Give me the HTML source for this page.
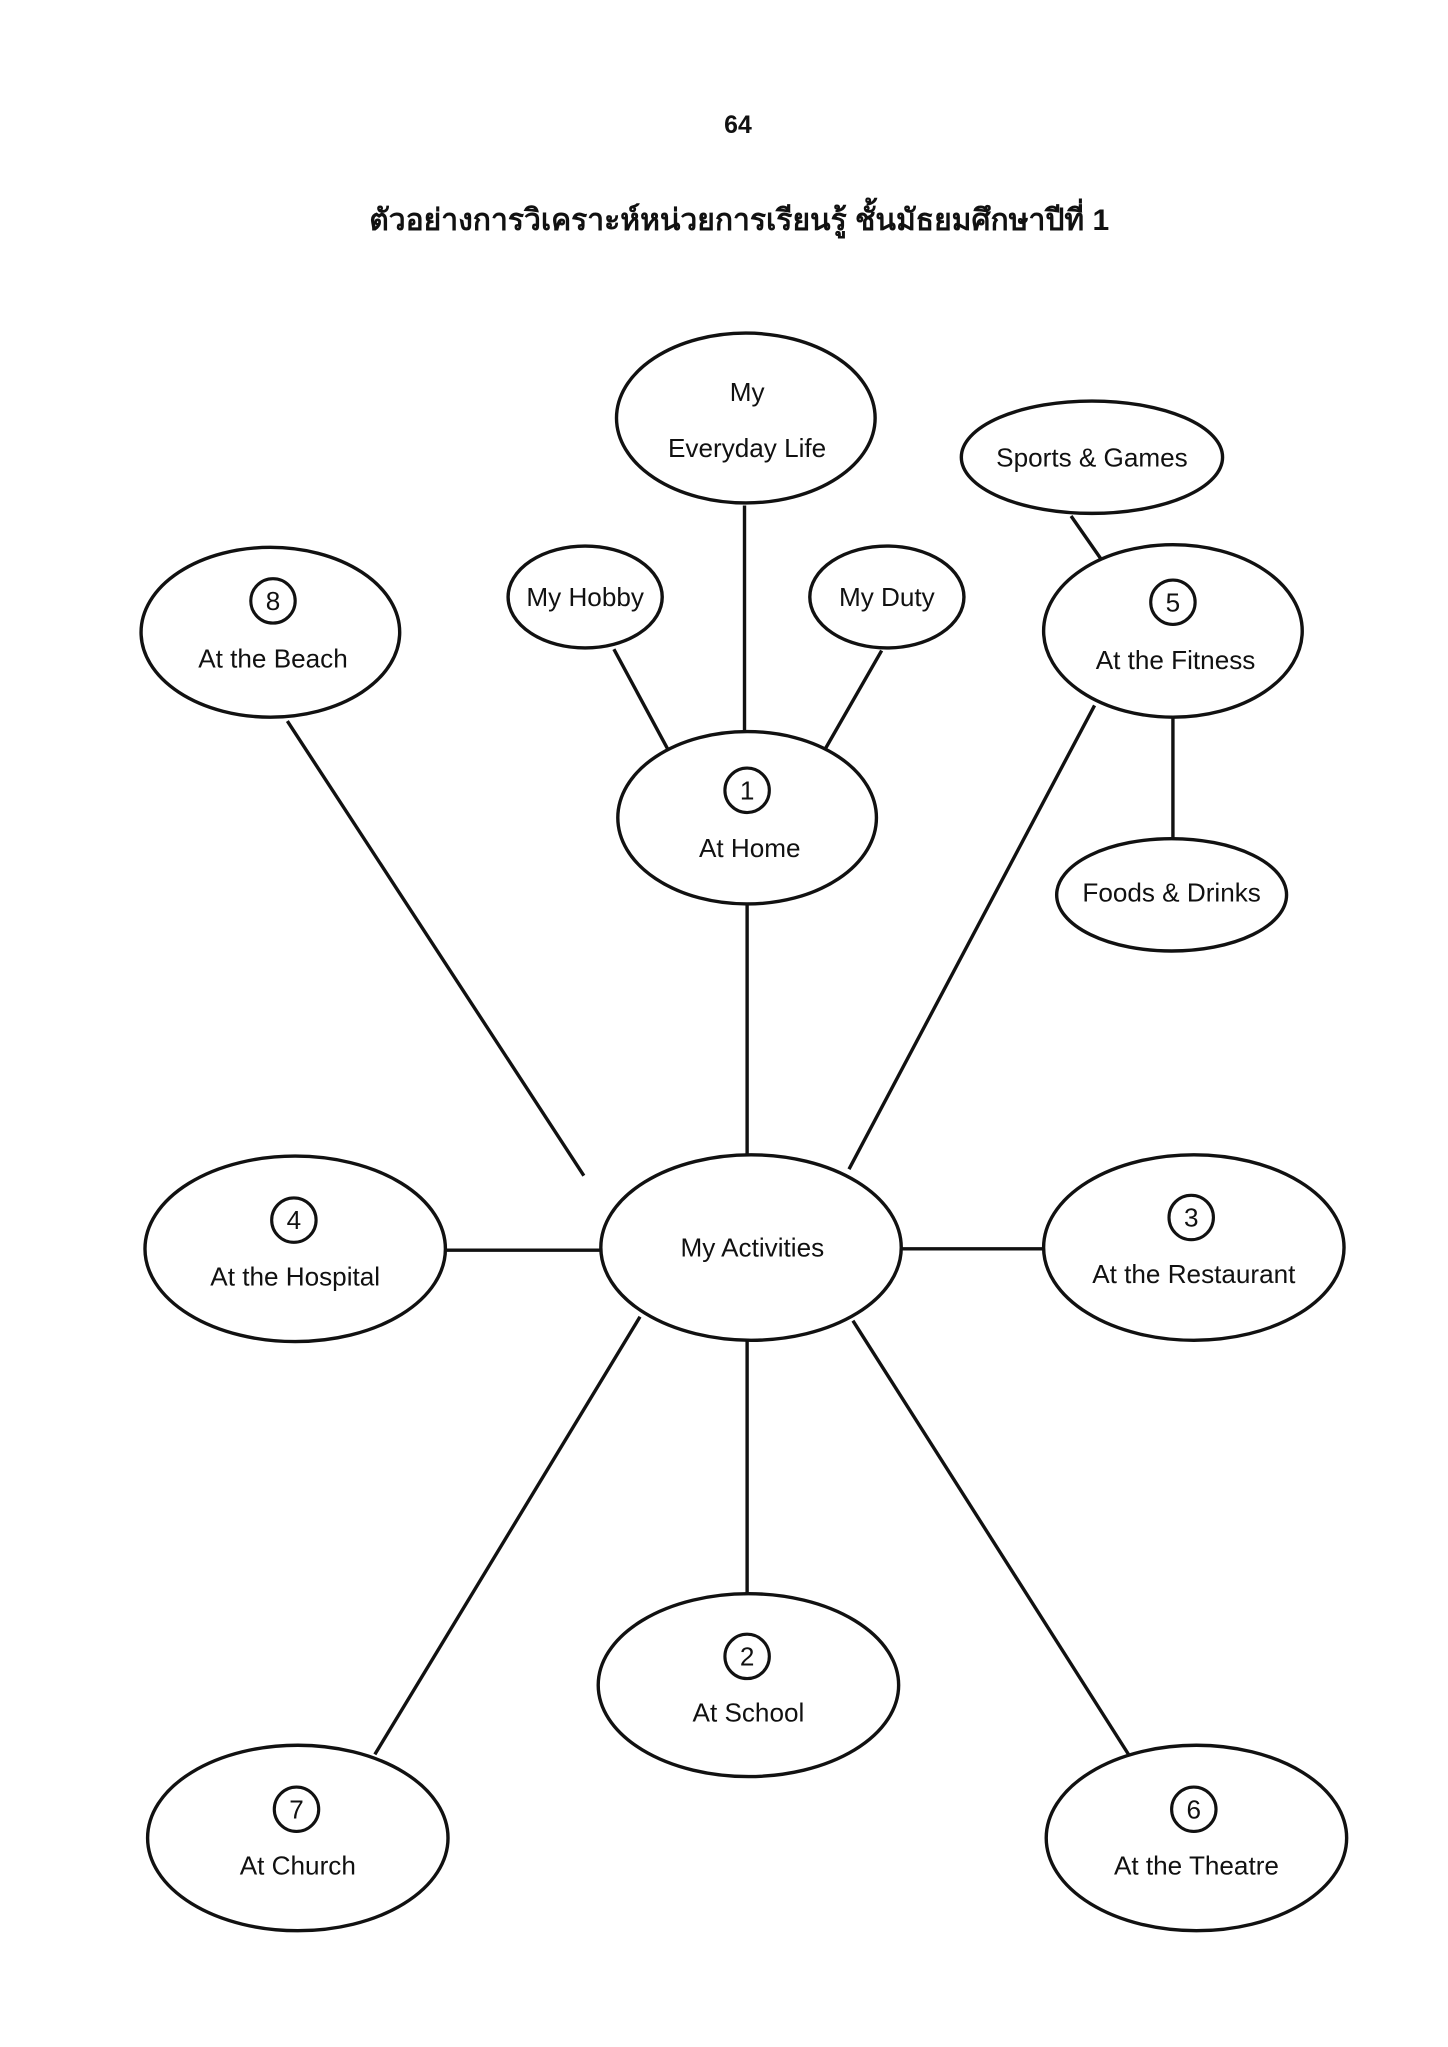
<!DOCTYPE html>
<html><head><meta charset="utf-8"><style>
html,body{margin:0;padding:0;background:#fff;}
svg{display:block;}
text{font-family:"Liberation Sans","Noto Sans CJK SC",sans-serif;fill:#111;}
</style></head><body>
<svg width="1448" height="2047" viewBox="0 0 1108.6 1567" preserveAspectRatio="none" xmlns="http://www.w3.org/2000/svg">
<g stroke="#111" stroke-width="2.6" fill="none">
<line x1="570" y1="387" x2="570" y2="561"/>
<line x1="470" y1="497" x2="511" y2="573"/>
<line x1="675" y1="498" x2="632" y2="573"/>
<line x1="820" y1="395" x2="843" y2="428"/>
<line x1="898" y1="549" x2="898" y2="643"/>
<line x1="572" y1="692" x2="572" y2="884"/>
<line x1="220" y1="552" x2="447" y2="900"/>
<line x1="838" y1="540" x2="650" y2="895"/>
<line x1="341" y1="957" x2="460" y2="957"/>
<line x1="690" y1="956" x2="800" y2="956"/>
<line x1="490" y1="1008" x2="287" y2="1343"/>
<line x1="572" y1="1026" x2="572" y2="1220"/>
<line x1="653" y1="1011" x2="864" y2="1343"/>
</g>
<g stroke="#111" stroke-width="2.6" fill="#fff">
<ellipse cx="571" cy="320" rx="99" ry="65"/>
<ellipse cx="836" cy="350" rx="100" ry="43"/>
<ellipse cx="448" cy="457" rx="59" ry="39"/>
<ellipse cx="679" cy="457" rx="59" ry="39"/>
<ellipse cx="207" cy="484" rx="99" ry="65"/>
<ellipse cx="898" cy="483" rx="99" ry="66"/>
<ellipse cx="572" cy="626" rx="99" ry="66"/>
<ellipse cx="897" cy="685" rx="88" ry="43"/>
<ellipse cx="226" cy="956" rx="115" ry="71"/>
<ellipse cx="575" cy="955" rx="115" ry="71"/>
<ellipse cx="914" cy="955" rx="115" ry="71"/>
<ellipse cx="573" cy="1290" rx="115" ry="70"/>
<ellipse cx="228" cy="1407" rx="115" ry="71"/>
<ellipse cx="916" cy="1407" rx="115" ry="71"/>
</g>
<g stroke="#111" stroke-width="2.4" fill="#fff">
<circle cx="209" cy="460" r="17"/>
<circle cx="898" cy="461" r="17"/>
<circle cx="572" cy="605" r="17"/>
<circle cx="225" cy="934" r="17"/>
<circle cx="912" cy="932" r="17"/>
<circle cx="572" cy="1268" r="17"/>
<circle cx="227" cy="1385" r="17"/>
<circle cx="914" cy="1385" r="17"/>
</g>
<g text-anchor="middle" font-size="20">
<text x="565" y="102" font-weight="bold" font-size="19">64</text>
<text x="566" y="176" font-weight="bold" font-size="23">ตัวอย่างการวิเคราะห์หน่วยการเรียนรู้ ชั้นมัธยมศึกษาปีที่ 1</text>
<text x="572" y="307">My</text>
<text x="572" y="350">Everyday Life</text>
<text x="836" y="357">Sports &amp; Games</text>
<text x="448" y="464">My Hobby</text>
<text x="679" y="464">My Duty</text>
<text x="209" y="467">8</text>
<text x="209" y="511">At the Beach</text>
<text x="898" y="468">5</text>
<text x="900" y="512">At the Fitness</text>
<text x="572" y="612">1</text>
<text x="574" y="656">At Home</text>
<text x="897" y="690">Foods &amp; Drinks</text>
<text x="225" y="941">4</text>
<text x="226" y="984">At the Hospital</text>
<text x="576" y="962">My Activities</text>
<text x="912" y="939">3</text>
<text x="914" y="982">At the Restaurant</text>
<text x="572" y="1275">2</text>
<text x="573" y="1318">At School</text>
<text x="227" y="1392">7</text>
<text x="228" y="1435">At Church</text>
<text x="914" y="1392">6</text>
<text x="916" y="1435">At the Theatre</text>
</g>
</svg>
</body></html>
